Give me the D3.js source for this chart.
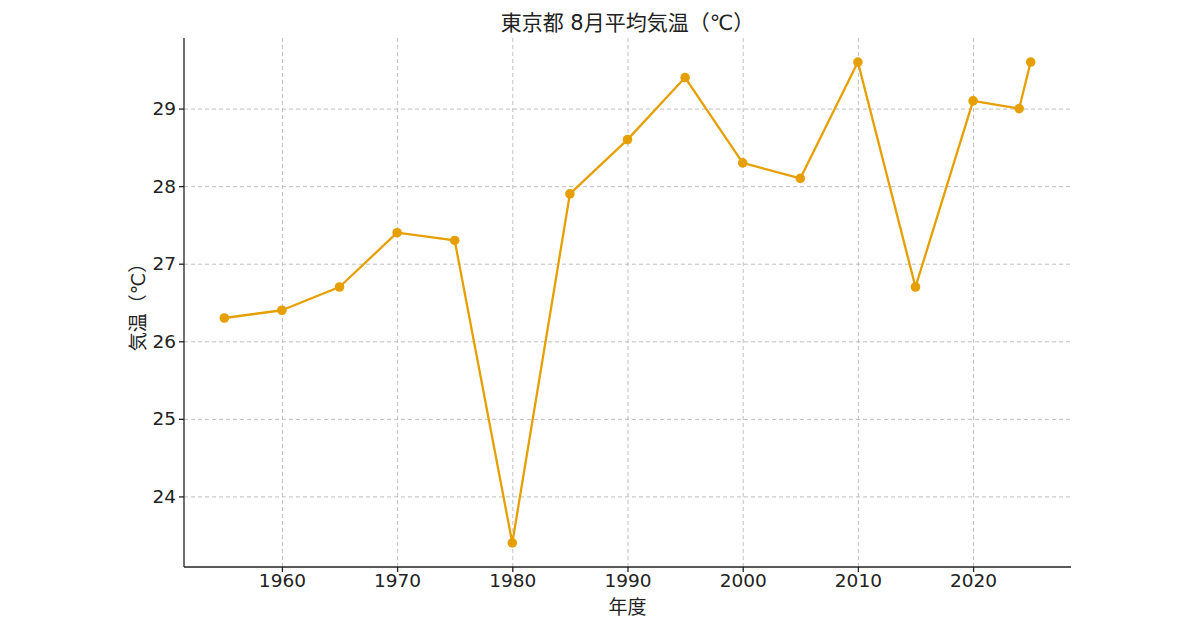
<!DOCTYPE html>
<html>
<head>
<meta charset="utf-8">
<script src="https://cdn.jsdelivr.net/npm/d3@7"></script>
<style>
  body { margin: 0; background: #fff; }
  svg text { font-family: "DejaVu Sans", "Noto Sans CJK JP", sans-serif; }
  .grid line { stroke: #b8b8b8; stroke-dasharray: 4,3; stroke-width: 0.9; }
  .grid .domain { display: none; }
  .axis text { font-size: 18.5px; fill: #222; }
  .axis line, .axis path { stroke: #222; stroke-width: 1.3; }
</style>
</head>
<body>
<svg id="chart" width="1200" height="628"></svg>
<script>
// 東京都 8月平均気温
const years = [1955, 1960, 1965, 1970, 1975, 1980, 1985, 1990, 1995, 2000, 2005, 2010, 2015, 2020, 2024, 2025];
const temps = [26.3, 26.4, 26.7, 27.4, 27.3, 23.4, 27.9, 28.6, 29.4, 28.3, 28.1, 29.6, 26.7, 29.1, 29.0, 29.6];
const xTicks = [1960, 1970, 1980, 1990, 2000, 2010, 2020];
const yTicks = [24, 25, 26, 27, 28, 29];

const titleText = '東京都 8月平均気温（℃）';
const xLabel = '年度';
const yLabel = '気温（℃）';

const mLeft = 184, mRight = 1071, mTop = 38, mBottom = 567;
const svg = d3.select('#chart');

// matplotlib style 5% margins
const xPad = (d3.max(years) - d3.min(years)) * 0.05;
const yPad = (d3.max(temps) - d3.min(temps)) * 0.05;
const x = d3.scaleLinear()
    .domain([d3.min(years) - xPad, d3.max(years) + xPad])
    .range([mLeft, mRight]);
const y = d3.scaleLinear()
    .domain([d3.min(temps) - yPad, d3.max(temps) + yPad])
    .range([mBottom, mTop]);

// grid
svg.append('g')
    .attr('class', 'grid')
    .attr('transform', 'translate(0,' + mBottom + ')')
    .call(d3.axisBottom(x).tickValues(xTicks).tickSize(-(mBottom - mTop)).tickFormat(''));
svg.append('g')
    .attr('class', 'grid')
    .attr('transform', 'translate(' + mLeft + ',0)')
    .call(d3.axisLeft(y).tickValues(yTicks).tickSize(-(mRight - mLeft)).tickFormat(''));

// axes
svg.append('g')
    .attr('class', 'axis')
    .attr('transform', 'translate(0,' + mBottom + ')')
    .call(d3.axisBottom(x).tickValues(xTicks).tickSize(5).tickPadding(2).tickFormat(d3.format('d')))
    .call(g => g.select('.domain').attr('d', 'M' + mLeft + ',0H' + mRight));
svg.append('g')
    .attr('class', 'axis')
    .attr('transform', 'translate(' + mLeft + ',0)')
    .call(d3.axisLeft(y).tickValues(yTicks).tickSize(5).tickPadding(3).tickFormat(d3.format('d')))
    .call(g => g.select('.domain').attr('d', 'M0,' + mTop + 'V' + mBottom));

// line + markers
const line = d3.line()
    .x((d, i) => x(years[i]))
    .y(d => y(d));
svg.append('path')
    .datum(temps)
    .attr('fill', 'none')
    .attr('stroke', '#E69F00')
    .attr('stroke-width', 2.3)
    .attr('stroke-linejoin', 'round')
    .attr('d', line);
svg.append('g')
    .selectAll('circle')
    .data(temps)
    .enter()
    .append('circle')
    .attr('cx', (d, i) => x(years[i]))
    .attr('cy', d => y(d))
    .attr('r', 4.8)
    .attr('fill', '#E69F00');

// texts
svg.append('text')
    .attr('x', (mLeft + mRight) / 2)
    .attr('y', 30)
    .attr('text-anchor', 'middle')
    .attr('font-size', '21px')
    .attr('fill', '#222')
    .text(titleText);
svg.append('text')
    .attr('x', (mLeft + mRight) / 2)
    .attr('y', 614)
    .attr('text-anchor', 'middle')
    .attr('font-size', '19px')
    .attr('fill', '#222')
    .text(xLabel);
svg.append('text')
    .attr('transform', 'translate(145,' + ((mTop + mBottom) / 2) + ') rotate(-90)')
    .attr('text-anchor', 'middle')
    .attr('font-size', '19px')
    .attr('fill', '#222')
    .text(yLabel);
</script>
</body>
</html>
